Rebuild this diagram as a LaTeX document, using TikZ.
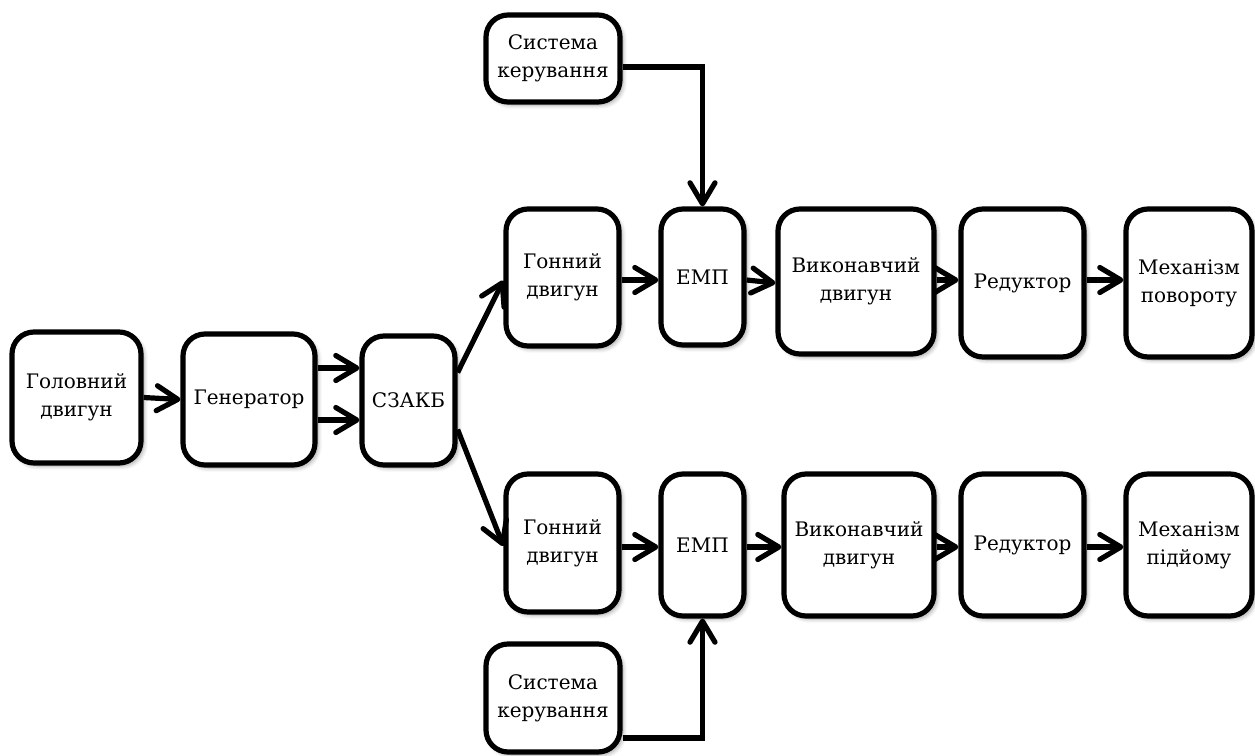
\documentclass[tikz,border=0pt]{standalone}
\usepackage{fontspec}
\setmainfont{DejaVu Serif}
\usetikzlibrary{arrows.meta,shadows.blur}
\begin{document}
\begin{tikzpicture}[x=0.5pt,y=-0.5pt,
  blk/.style={draw=black,line width=2.6pt,rounded corners=11pt,fill=white,
    align=center,inner sep=0pt,
    font=\fontsize{10pt}{14pt}\selectfont,
    blur shadow={shadow xshift=1.5pt,shadow yshift=-1.5pt,shadow blur steps=6,shadow opacity=35}},
  arr/.style={line width=2.6pt,
    -{Straight Barb[length=10.5pt,width=12.5pt,line cap=round,line join=round]}}]
\useasboundingbox (0,0) rectangle (1255,756);

% left chain
\node[blk,minimum width=64.5pt,minimum height=65.5pt] (hd)    at (76.5,397.5) {Головний\\двигун};
\node[blk,minimum width=66pt,minimum height=65.5pt]   (gen)   at (249,399.5)  {Генератор};
\node[blk,minimum width=46.5pt,minimum height=64.5pt] (szakb) at (408.5,400.5) {СЗАКБ};

% upper branch
\node[blk,minimum width=67pt,minimum height=43.5pt]   (sys1)  at (553,58.5)   {Система\\керування};
\node[blk,minimum width=56.5pt,minimum height=68.5pt] (gd1)   at (562.5,277.5) {Гонний\\двигун};
\node[blk,minimum width=41.5pt,minimum height=68pt]   (emp1)  at (702.5,277)  {ЕМП};
\node[blk,minimum width=78pt,minimum height=72.5pt]   (vd1)   at (856,281.5)  {Виконавчий\\двигун};
\node[blk,minimum width=61.5pt,minimum height=74pt]   (red1)  at (1022.5,283) {Редуктор};
\node[blk,minimum width=63pt,minimum height=74pt]     (mech1) at (1189,283)   {Механізм\\повороту};

% lower branch
\node[blk,minimum width=56.5pt,minimum height=69pt]   (gd2)   at (562.5,543)  {Гонний\\двигун};
\node[blk,minimum width=41.5pt,minimum height=71pt]   (emp2)  at (702.5,545)  {ЕМП};
\node[blk,minimum width=75pt,minimum height=71pt]     (vd2)   at (859,545)    {Виконавчий\\двигун};
\node[blk,minimum width=61.5pt,minimum height=71pt]   (red2)  at (1022.5,545) {Редуктор};
\node[blk,minimum width=63pt,minimum height=71pt]     (mech2) at (1189,545)   {Механізм\\підйому};
\node[blk,minimum width=67pt,minimum height=54pt]     (sys2)  at (553,698)    {Система\\керування};

% connectors
\draw[arr] (hd.east) -- (gen.west);
\draw[arr] ([yshift=15.75pt]gen.east) -- ([yshift=16.25pt]szakb.west);
\draw[arr] ([yshift=-10.25pt]gen.east) -- ([yshift=-9.75pt]szakb.west);
\draw[arr] ([yshift=14pt]szakb.east) -- ([yshift=-1.5pt]gd1.west);
\draw[arr] ([yshift=-14.5pt]szakb.east) -- ([yshift=-1.5pt]gd2.west);

\draw[arr] ([yshift=-1.25pt]gd1.east) -- ([yshift=-1.5pt]emp1.west);
\draw[arr] ([yshift=-1.5pt]emp1.east) -- ([yshift=-0.75pt]vd1.west);
\draw[arr] ([yshift=0.75pt]vd1.east) -- ([yshift=1.5pt]red1.west);
\draw[arr] ([yshift=1.5pt]red1.east) -- ([yshift=1.5pt]mech1.west);
\draw[arr] ([yshift=-4.25pt]sys1.east) -| (emp1.north);

\draw[arr] ([yshift=-2pt]gd2.east) -- ([yshift=-1pt]emp2.west);
\draw[arr] ([yshift=-1pt]emp2.east) -- ([yshift=-1pt]vd2.west);
\draw[arr] ([yshift=-1pt]vd2.east) -- ([yshift=-1pt]red2.west);
\draw[arr] ([yshift=-1pt]red2.east) -- ([yshift=-1pt]mech2.west);
\draw[arr] ([yshift=-20pt]sys2.east) -| (emp2.south);
\end{tikzpicture}
\end{document}
